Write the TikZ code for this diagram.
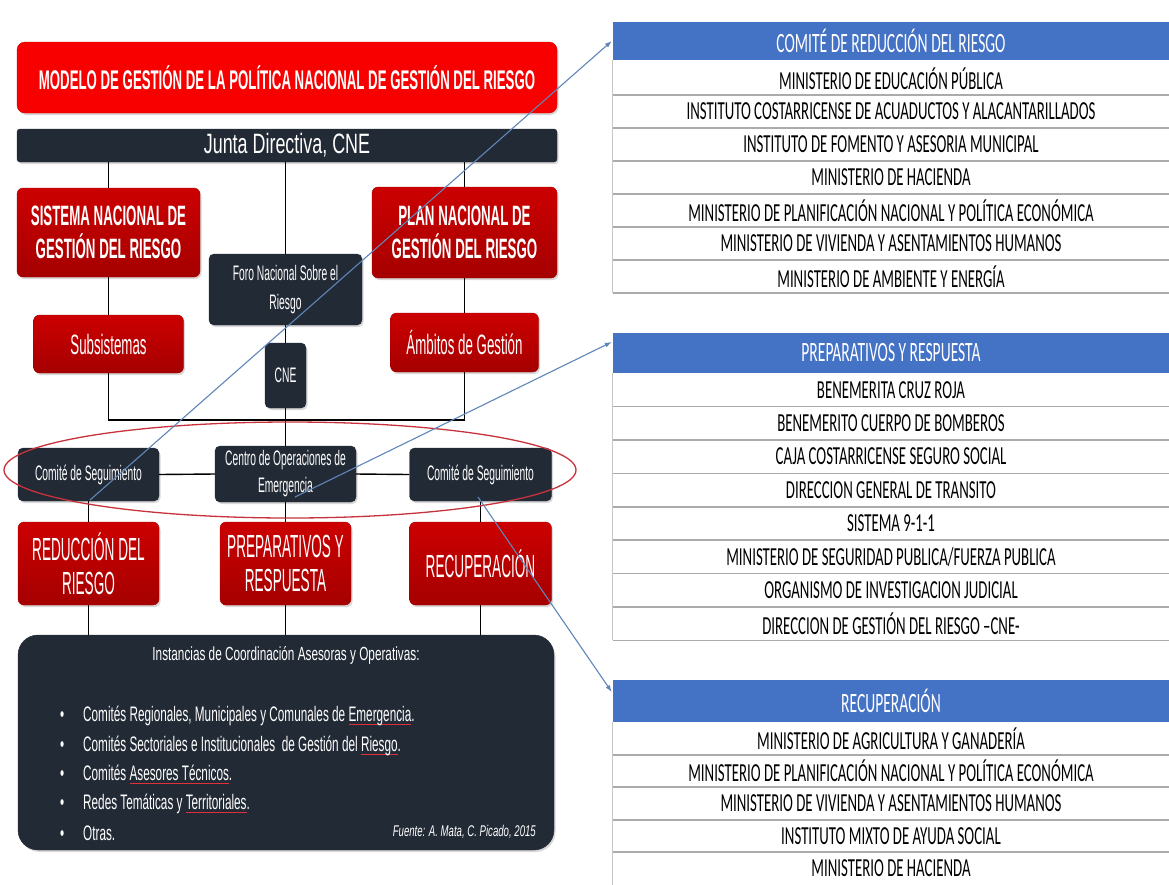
\documentclass[tikz,border=0pt]{standalone}
\usepackage{fontspec}
\setmainfont{Liberation Sans}
\newfontfamily\nA[FakeStretch=0.49]{Liberation Sans}
\newfontfamily\nH[FakeStretch=0.475]{Liberation Sans}
\newfontfamily\nB[FakeStretch=0.425]{Liberation Sans}
\newfontfamily\nJ[FakeStretch=0.64]{Liberation Sans}
\newfontfamily\narw[FakeStretch=0.62]{Liberation Sans}
\newfontfamily\nL[FakeStretch=0.56]{Liberation Sans}
\newfontfamily\tabH[FakeStretch=0.555]{Carlito}
\newfontfamily\tabR[FakeStretch=0.57]{Carlito}
\usetikzlibrary{arrows.meta,shadows,calc}
\definecolor{titleRed}{HTML}{F80000}
\definecolor{redT}{HTML}{CC0000}
\definecolor{redB}{HTML}{A50000}
\definecolor{darkbox}{HTML}{222A35}
\definecolor{hdrblue}{HTML}{4472C4}
\definecolor{arrblue}{HTML}{5F86B8}
\definecolor{ringred}{HTML}{C8323C}
\definecolor{sepgray}{HTML}{ABABAB}
\definecolor{spellred}{HTML}{E0303A}
\newcommand\fsz[2]{\fontsize{#1}{#2}\selectfont}
\newcommand\spell[1]{\setbox0=\hbox{#1}\leavevmode\rlap{\color{spellred}\raisebox{-3.5pt}{\rule{\wd0}{1pt}}}\box0}
\begin{document}
\begin{tikzpicture}[x=1pt,y=-1pt,
  shd/.style={drop shadow={opacity=0.3,shadow xshift=1.5pt,shadow yshift=-2pt}},
  titlebox/.style={fill=titleRed,draw=titleRed!85!black,rounded corners=8pt,text=white,inner sep=0pt,shd},
  redbox/.style={top color=redT,bottom color=redB,draw=redB,rounded corners=6pt,text=white,align=center,inner sep=0pt,shd},
  darkbox/.style={fill=darkbox,draw=darkbox,rounded corners=5pt,text=white,align=center,inner sep=0pt,shd},
  conn/.style={draw=black,line width=1.4pt},
  ring/.style={draw=ringred,line width=1.3pt},
  blarrow/.style={draw=arrblue,line width=1.1pt,-{Latex[length=7pt,width=5pt]}},
  hdr/.style={fill=hdrblue,text=white,minimum width=556,inner sep=0pt,font=\tabH\fsz{28}{32}},
  row/.style={fill=white,text=black,minimum width=556,inner sep=0pt,font=\tabR\fsz{26}{30}},
  sepline/.style={draw=sepgray,line width=1.6pt},
  bordline/.style={draw=gray!45,line width=1pt},
  item/.style={anchor=west,text=white,inner sep=0pt,font=\nL\fsz{21}{24}}
]
\useasboundingbox[fill=white] (0,0) rectangle (1169,884);

% ---------- left diagram ----------
\node[titlebox,minimum width=540,minimum height=71,font=\nA\bfseries\fsz{27}{30}] (title) at (287,77.5)
  {MODELO DE GESTIÓN DE LA POLÍTICA NACIONAL DE GESTIÓN DEL RIESGO};
\node[darkbox,rounded corners=3pt,minimum width=540,minimum height=33,font=\nJ\fsz{28}{30}] (junta) at (287,145.5)
  {Junta Directiva, CNE};

\node[redbox,minimum width=183,minimum height=89,font=\nH\bfseries\fsz{28}{33}] (snr) at (108.5,232.5)
  {SISTEMA NACIONAL DE\\GESTIÓN DEL RIESGO};
\node[redbox,minimum width=185,minimum height=91,font=\nH\bfseries\fsz{28}{33}] (pnr) at (464.5,232.5)
  {PLAN NACIONAL DE\\GESTIÓN DEL RIESGO};
\node[darkbox,minimum width=153,minimum height=71,font=\nA\fsz{21}{29}] (foro) at (285.5,289.5)
  {Foro Nacional Sobre el\\Riesgo};

\node[redbox,minimum width=150,minimum height=58,font=\nH\fsz{28}{30}] (subs) at (108.5,344)
  {Subsistemas};
\node[redbox,minimum width=148,minimum height=59,font=\nH\fsz{28}{30}] (amb) at (464.5,342.5)
  {Ámbitos de Gestión};
\node[darkbox,minimum width=41,minimum height=65,font=\nA\fsz{21}{24}] (cne) at (285.5,375.5)
  {CNE};

\node[darkbox,minimum width=141,minimum height=53,font=\nA\fsz{21}{24}] (cs1) at (88.5,474.5)
  {Comité de Seguimiento};
\node[darkbox,minimum width=141,minimum height=56,font=\nA\fsz{21}{27}] (coe) at (285.5,474)
  {Centro de Operaciones de\\Emergencia};
\node[darkbox,minimum width=142,minimum height=53,font=\nA\fsz{21}{24}] (cs2) at (480.5,474.5)
  {Comité de Seguimiento};

\node[redbox,minimum width=141,minimum height=83,font=\nB\fsz{32}{34}] (red) at (88.5,563.5)
  {REDUCCIÓN DEL\\RIESGO};
\node[redbox,minimum width=131,minimum height=83,font=\nB\fsz{32}{34}] (prep) at (285.5,563.5)
  {PREPARATIVOS Y\\RESPUESTA};
\node[redbox,minimum width=142,minimum height=83,font=\nB\fsz{32}{34}] (recu) at (480.5,563.5)
  {RECUPERACIÓN};

\node[darkbox,rounded corners=20pt,minimum width=536,minimum height=215] (inst) at (286,742.5) {};
\node[text=white,inner sep=0pt,font=\narw\fsz{19}{24}] (insttitle) at (286,655)
  {Instancias de Coordinación Asesoras y Operativas:};
\node[item] (b1) at (60,716) {\makebox[23pt][l]{\textbullet}Comités Regionales, Municipales y Comunales de \spell{Emergencia}.};
\node[item] (b2) at (60,746) {\makebox[23pt][l]{\textbullet}Comités Sectoriales e Institucionales\ \ de Gestión del \spell{Riesgo}.};
\node[item] (b3) at (60,775) {\makebox[23pt][l]{\textbullet}Comités \spell{Asesores Técnicos}.};
\node[item] (b4) at (60,804) {\makebox[23pt][l]{\textbullet}Redes Temáticas y \spell{Territoriales}.};
\node[item] (b5) at (60,833) {\makebox[23pt][l]{\textbullet}Otras.};
\node[anchor=east,text=white,inner sep=0pt,font=\narw\itshape\fsz{15.5}{20}] (src) at (536,832)
  {Fuente: A. Mata, C. Picado, 2015};

% connectors
\coordinate (jl) at (285.5,420);
\draw[conn] (snr.north) -- (snr.north |- junta.south);
\draw[conn] (foro.north) -- (foro.north |- junta.south);
\draw[conn] (pnr.north) -- (pnr.north |- junta.south);
\draw[conn] (snr.south) -- (snr.south |- subs.north);
\draw[conn] (pnr.south) -- (pnr.south |- amb.north);
\draw[conn] (subs.south) |- (jl) -| (amb.south);
\draw[conn] (foro.south) -- (cne.north);
\draw[conn] (cne.south) -- (coe.north);
\draw[conn] (cs1.east) -- (coe.west);
\draw[conn] (coe.east) -- (cs2.west);
\draw[conn] (cs1.south) -- (cs1.south |- red.north);
\draw[conn] (coe.south) -- (coe.south |- prep.north);
\draw[conn] (cs2.south) -- (cs2.south |- recu.north);
\draw[conn] (red.south) -- (red.south |- inst.north);
\draw[conn] (prep.south) -- (prep.south |- inst.north);
\draw[conn] (recu.south) -- (recu.south |- inst.north);

% red ring
\draw[ring] (290,470) ellipse [x radius=286, y radius=48];

% ---------- tables ----------
% table 1
\node[hdr,minimum height=38] (t1h) at (891,41) {COMITÉ DE REDUCCIÓN DEL RIESGO};
\node[row,minimum height=33] (t1r1) at (891,78.5) {MINISTERIO DE EDUCACIÓN PÚBLICA};
\node[row,minimum height=33] (t1r2) at (891,111.5) {INSTITUTO COSTARRICENSE DE ACUADUCTOS Y ALACANTARILLADOS};
\node[row,minimum height=33] (t1r3) at (891,144.5) {INSTITUTO DE FOMENTO Y ASESORIA MUNICIPAL};
\node[row,minimum height=33] (t1r4) at (891,177.5) {MINISTERIO DE HACIENDA};
\node[row,minimum height=33] (t1r5) at (891,210.5) {MINISTERIO DE PLANIFICACIÓN NACIONAL Y POLÍTICA ECONÓMICA};
\node[row,minimum height=33] (t1r6) at (891,243.5) {MINISTERIO DE VIVIENDA Y ASENTAMIENTOS HUMANOS};
\node[row,minimum height=33] (t1r7) at (891,276.5) {MINISTERIO DE AMBIENTE Y ENERGÍA};
\foreach \i in {1,...,7} {\draw[sepline] (t1r\i.south west) -- (t1r\i.south east);}
\draw[bordline] (t1h.south west) -- (t1r7.south west);

% table 2
\node[hdr,minimum height=40] (t2h) at (891,353) {PREPARATIVOS Y RESPUESTA};
\node[row,minimum height=33.4] (t2r1) at (891,389.7) {BENEMERITA CRUZ ROJA};
\node[row,minimum height=33.4] (t2r2) at (891,423.1) {BENEMERITO CUERPO DE BOMBEROS};
\node[row,minimum height=33.4] (t2r3) at (891,456.5) {CAJA COSTARRICENSE SEGURO SOCIAL};
\node[row,minimum height=33.4] (t2r4) at (891,489.9) {DIRECCION GENERAL DE TRANSITO};
\node[row,minimum height=33.4] (t2r5) at (891,523.3) {SISTEMA 9-1-1};
\node[row,minimum height=33.4] (t2r6) at (891,556.7) {MINISTERIO DE SEGURIDAD PUBLICA/FUERZA PUBLICA};
\node[row,minimum height=33.4] (t2r7) at (891,590.1) {ORGANISMO DE INVESTIGACION JUDICIAL};
\node[row,minimum height=33.4] (t2r8) at (891,623.5) {DIRECCION DE GESTIÓN DEL RIESGO –CNE-};
\foreach \i in {1,...,8} {\draw[sepline] (t2r\i.south west) -- (t2r\i.south east);}
\draw[bordline] (t2h.south west) -- (t2r8.south west);

% table 3
\node[hdr,minimum height=42] (t3h) at (891,701) {RECUPERACIÓN};
\node[row,minimum height=32.5] (t3r1) at (891,738.25) {MINISTERIO DE AGRICULTURA Y GANADERÍA};
\node[row,minimum height=32.5] (t3r2) at (891,770.75) {MINISTERIO DE PLANIFICACIÓN NACIONAL Y POLÍTICA ECONÓMICA};
\node[row,minimum height=32.5] (t3r3) at (891,803.25) {MINISTERIO DE VIVIENDA Y ASENTAMIENTOS HUMANOS};
\node[row,minimum height=32.5] (t3r4) at (891,835.75) {INSTITUTO MIXTO DE AYUDA SOCIAL};
\node[row,minimum height=32.5] (t3r5) at (891,868.25) {MINISTERIO DE HACIENDA};
\foreach \i in {1,...,4} {\draw[sepline] (t3r\i.south west) -- (t3r\i.south east);}
\draw[bordline] (t3h.south west) -- (t3r5.south west);

% ---------- blue arrows ----------
\coordinate (a1s) at (90,500);
\coordinate (a2s) at (295,497);
\coordinate (a3s) at (478,497);
\draw[blarrow] (a1s) -- ($(t1h.west)+(-1,0)$);
\draw[blarrow] (a2s) -- ($(t2h.west)+(-1,-11)$);
\draw[blarrow] (a3s) -- ($(t3h.west)+(-1,-9)$);
\end{tikzpicture}
\end{document}
